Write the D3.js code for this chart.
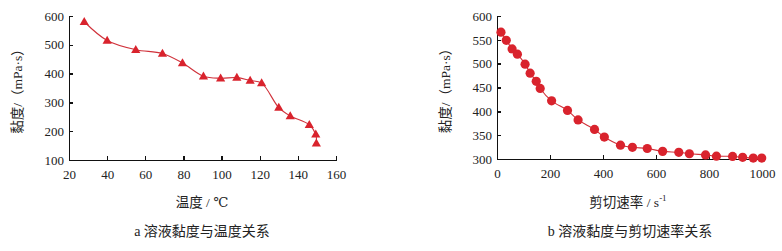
<!DOCTYPE html>
<html>
<head>
  <style>
  body { margin: 0; background: #fff; }
  svg { font-family: "Liberation Serif", "DejaVu Serif", "Noto Sans CJK SC", serif; }
  .axis path, .axis line { stroke: #111; shape-rendering: crispedges; }
  .axis path { stroke-width: 1.6; }
  .axis line { stroke-width: 1.4; }
  .axis text { font-size: 13px; fill: #222; font-family: "Liberation Serif", serif; }
  .title { font-size: 13.5px; fill: #222; text-anchor: middle; }
  .cap { font-size: 14px; }
  .series { fill: none; stroke: #d0313a; stroke-width: 1.1; }
  .mark { fill: #d9232d; }
  </style>
  <script src="https://d3js.org/d3.v7.min.js"></script>
</head>
<body>
<div id="container"></div>
<script>
// a: viscosity vs temperature
var tempX = [28, 40, 55, 69, 79.5, 90.5, 99.5, 108, 115, 121, 130, 136, 146, 149.4, 149.7]
var tempY = [580, 515, 483, 470, 437, 391, 384, 386, 376, 367, 282, 253, 222, 189, 158]
var tempXTicks = [20, 40, 60, 80, 100, 120, 140, 160]
var tempYTicks = [100, 200, 300, 400, 500, 600]

// b: viscosity vs shear rate
var shearX = [15, 35, 57, 77, 106, 125, 148, 163, 206, 266, 306, 368, 405, 466, 511, 567, 625, 686, 726, 787, 828, 889, 927, 967, 999]
var shearY = [566, 549, 531, 520, 499, 480, 463, 448, 422, 402, 382, 362, 346, 329, 324.5, 322, 316, 314, 311, 308.5, 306, 305.5, 303.5, 302, 302]
var shearXTicks = [0, 200, 400, 600, 800, 1000]
var shearYTicks = [300, 350, 400, 450, 500, 550, 600]

var svg = d3.select("#container").append("svg")
    .attr("width", 782)
    .attr("height", 251)

function panel(opt) {
  var x = d3.scaleLinear().domain(opt.xd).range([opt.left, opt.right])
  var y = d3.scaleLinear().domain(opt.yd).range([opt.bottom, opt.top])
  var g = svg.append("g")

  g.append("g")
    .attr("class", "axis")
    .attr("transform", "translate(0," + opt.bottom + ")")
    .call(d3.axisBottom(x).tickValues(opt.xt).tickFormat(d3.format("d"))
      .tickSizeInner(-4).tickSizeOuter(0).tickPadding(10))

  g.append("g")
    .attr("class", "axis")
    .attr("transform", "translate(" + opt.left + ",0)")
    .call(d3.axisLeft(y).tickValues(opt.yt).tickFormat(d3.format("d"))
      .tickSizeInner(-4).tickSizeOuter(0).tickPadding(5))

  var pts = opt.xs.map(function(d, i) { return [x(d), y(opt.ys[i])] })

  g.append("path")
    .attr("class", "series")
    .attr("d", d3.line().curve(d3.curveCatmullRom.alpha(0.5))(pts))

  if (opt.shape == "tri") {
    g.selectAll(".mark").data(pts).enter().append("path")
      .attr("class", "mark")
      .attr("transform", function(d) { return "translate(" + d[0] + "," + d[1] + ")" })
      .attr("d", "M0,-4.8L4.6,3.2L-4.6,3.2Z")
  } else {
    g.selectAll(".mark").data(pts).enter().append("circle")
      .attr("class", "mark")
      .attr("cx", function(d) { return d[0] })
      .attr("cy", function(d) { return d[1] })
      .attr("r", 4.6)
  }

  var cy = (opt.top + opt.bottom) / 2
  g.append("text")
    .attr("class", "title")
    .attr("transform", "translate(" + opt.ytx + "," + cy + ") rotate(-90)")
    .attr("dy", "0.35em")
    .text("黏度/（mPa·s）")

  var xt = g.append("text")
    .attr("class", "title")
    .attr("x", opt.xtx)
    .attr("y", 207)
    .text(opt.xtitle)
  if (opt.sup) {
    xt.append("tspan").attr("dy", -6).attr("font-size", 9).text(opt.sup)
  }

  g.append("text")
    .attr("class", "title cap")
    .attr("x", opt.capx)
    .attr("y", 236)
    .text(opt.caption)
}

panel({
  xs: tempX, ys: tempY, xd: [20, 160], yd: [100, 600], xt: tempXTicks, yt: tempYTicks,
  left: 69, right: 336, top: 16, bottom: 160, shape: "tri",
  ytx: 17, xtx: 202, xtitle: "温度 / ℃", capx: 202, caption: "a  溶液黏度与温度关系"
})

panel({
  xs: shearX, ys: shearY, xd: [0, 1000], yd: [300, 600], xt: shearXTicks, yt: shearYTicks,
  left: 497, right: 762, top: 16, bottom: 159, shape: "circ",
  ytx: 445, xtx: 628, xtitle: "剪切速率 / s", sup: "-1", capx: 630, caption: "b  溶液黏度与剪切速率关系"
})
</script>
</body>
</html>
